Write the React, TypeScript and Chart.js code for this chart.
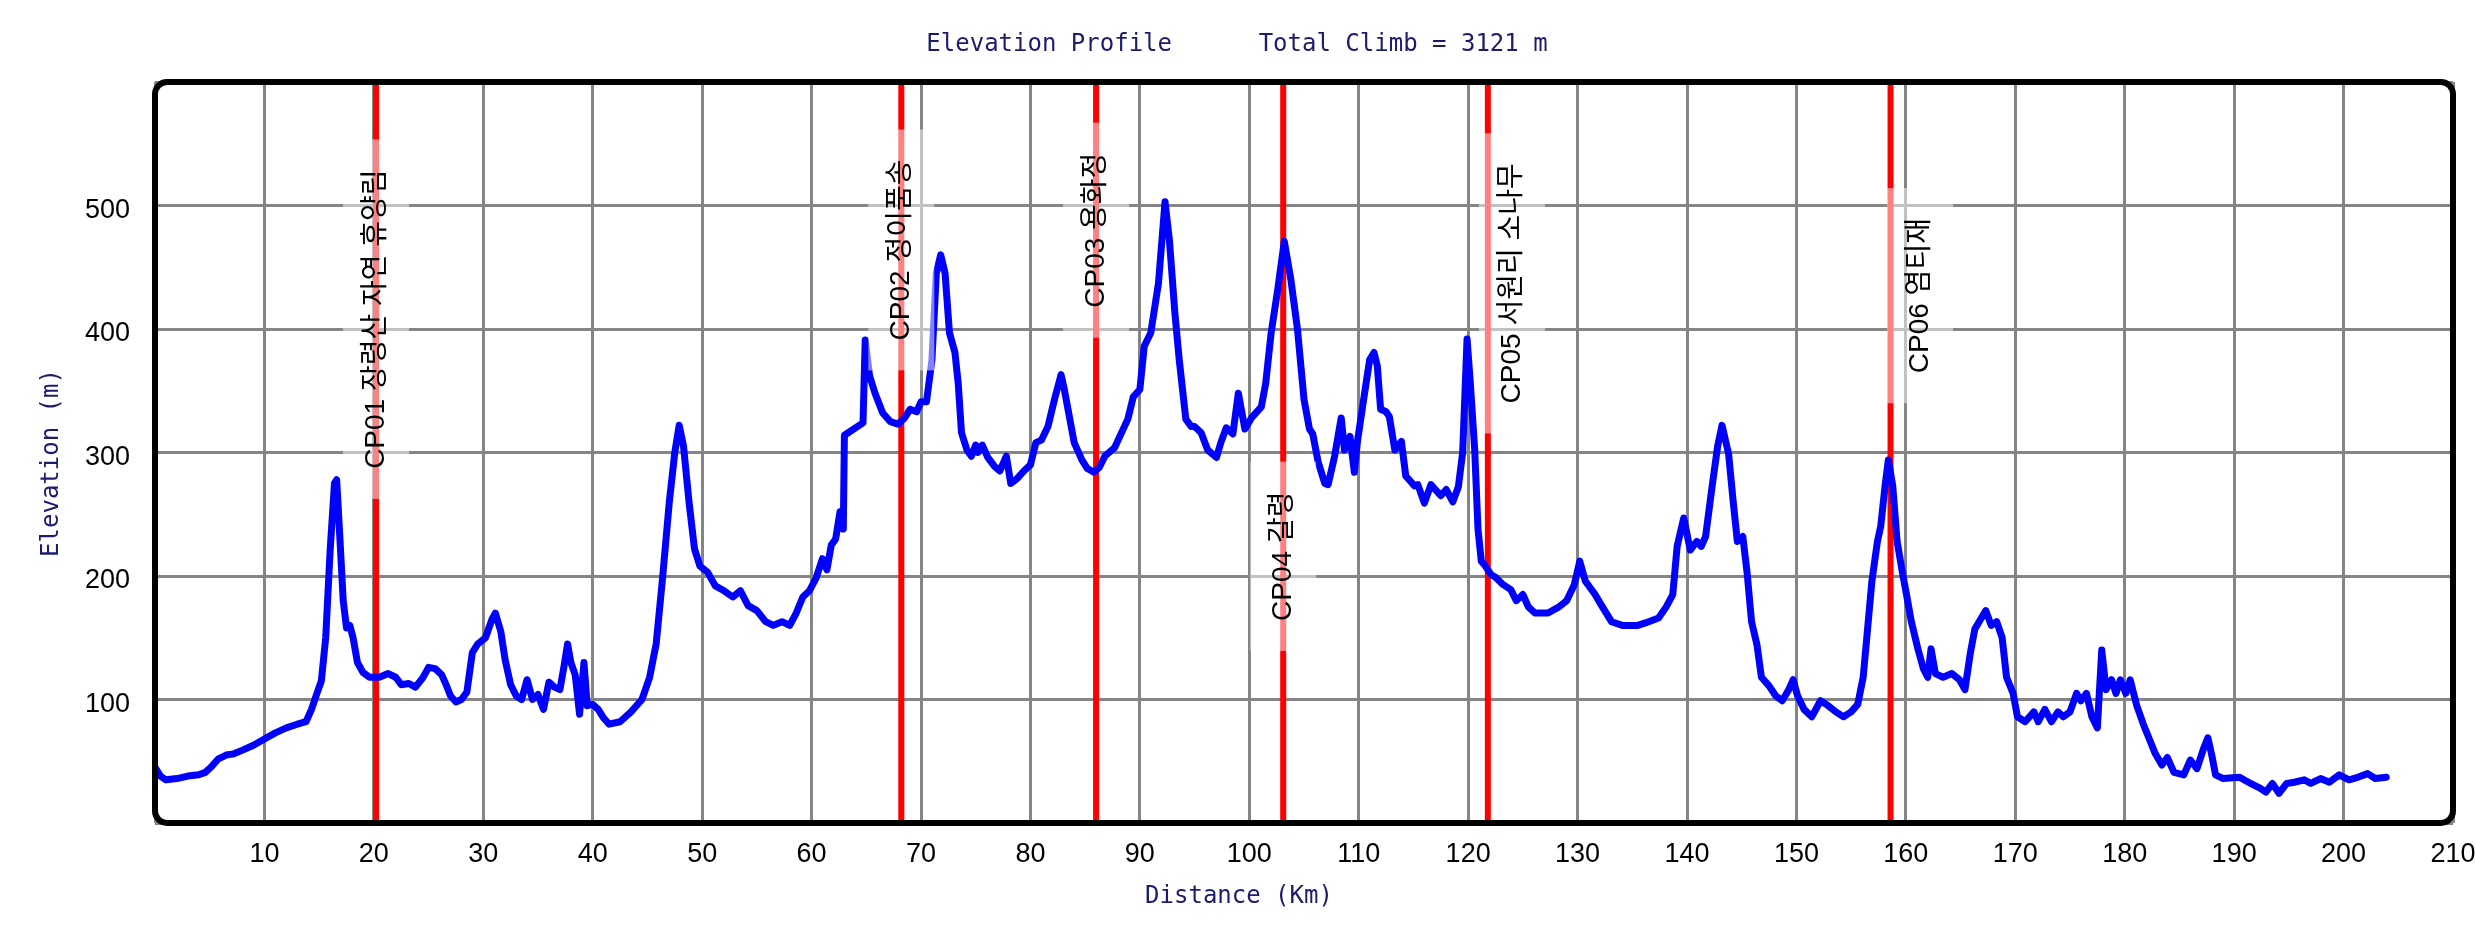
import { useEffect, useRef } from 'react';
import { Chart, registerables } from 'chart.js';

Chart.register(...registerables);

const titleText = 'Elevation Profile      Total Climb = 3121 m';
const xAxisTitle = 'Distance (Km)';
const yAxisTitle = 'Elevation (m)';

const xTickLabels = [10, 20, 30, 40, 50, 60, 70, 80, 90, 100, 110, 120, 130, 140, 150, 160, 170, 180, 190, 200, 210];
const yTickLabels = [100, 200, 300, 400, 500];

const cpNames = ['CP01 장령산 자연 휴양림', 'CP02 정이품송', 'CP03 용화정', 'CP04 갈령', 'CP05 서원리 소나무', 'CP06 염티재'];
const cpKm = [20.2, 68.2, 86.0, 103.1, 121.8, 158.6];
const cpLabelAt = [408, 464, 480, 216, 437, 427];
const cpLabelShiftKm = [0, 0, 0, 0, 2.2, 2.7];

const distanceKm = [
  0.0, 0.5, 1.0, 2.0, 3.0, 4.0, 4.6, 5.2, 5.8, 6.5, 7.2, 8.0, 9.0, 10.0, 11.0, 12.0, 13.0, 13.8, 14.3, 14.8,
  15.2, 15.6, 16.0, 16.4, 16.6, 16.9, 17.2, 17.5, 17.8, 18.1, 18.5, 19.0, 19.6, 20.5, 21.3, 22.0, 22.5, 23.2, 23.8, 24.5,
  25.0, 25.6, 26.2, 26.6, 27.0, 27.5, 28.0, 28.5, 29.0, 29.5, 30.2, 30.8, 31.1, 31.6, 32.0, 32.5, 33.0, 33.5, 34.0, 34.5,
  35.0, 35.5, 36.0, 36.5, 37.0, 37.4, 37.7, 38.0, 38.4, 38.8, 39.2, 39.5, 40.0, 40.5, 41.0, 41.5, 42.5, 43.5, 44.5, 45.2,
  45.8, 46.4, 47.0, 47.5, 47.9, 48.3, 48.8, 49.3, 49.8, 50.5, 51.2, 52.0, 52.8, 53.5, 54.2, 55.0, 55.8, 56.5, 57.3, 58.0,
  58.6, 59.2, 59.8, 60.4, 61.0, 61.4, 61.8, 62.2, 62.6, 62.9, 63.0, 64.7, 64.9, 65.3, 65.8, 66.5, 67.2, 67.9, 68.5, 69.0,
  69.6, 70.0, 70.5, 71.0, 71.4, 71.8, 72.2, 72.6, 73.1, 73.4, 73.7, 74.2, 74.6, 75.0, 75.2, 75.6, 76.1, 76.7, 77.2, 77.8,
  78.2, 78.8, 79.4, 80.0, 80.5, 81.0, 81.6, 82.2, 82.8, 83.1, 83.6, 84.0, 84.7, 85.2, 85.8, 86.3, 86.8, 87.7, 88.9, 89.4,
  90.0, 90.4, 91.0, 91.7, 92.3, 92.7, 93.2, 93.6, 94.2, 94.7, 95.0, 95.6, 96.2, 97.0, 97.4, 97.9, 98.5, 99.0, 99.6, 100.2,
  101.1, 101.5, 102.0, 102.6, 103.2, 103.8, 104.4, 105.0, 105.5, 105.8, 106.3, 106.9, 107.2, 107.8, 108.4, 108.7, 109.2, 109.6, 109.9, 110.5,
  111.0, 111.4, 111.7, 112.0, 112.5, 112.8, 113.3, 113.9, 114.3, 115.1, 115.4, 116.0, 116.6, 117.5, 118.0, 118.6, 119.1, 119.5, 119.9, 120.2,
  120.6, 120.9, 121.2, 121.5, 122.1, 122.5, 123.2, 123.9, 124.4, 125.0, 125.5, 126.1, 127.3, 128.3, 129.0, 129.7, 130.2, 130.7, 131.6, 132.2,
  133.1, 134.1, 135.5, 136.2, 137.4, 138.1, 138.7, 139.1, 139.7, 140.3, 140.9, 141.3, 141.7, 142.3, 142.8, 143.2, 143.8, 144.2, 144.6, 145.1,
  145.5, 145.9, 146.4, 146.8, 147.5, 148.1, 148.7, 149.3, 149.7, 150.1, 150.7, 151.4, 152.2, 152.9, 153.6, 154.3, 155.0, 155.6, 156.1, 156.5,
  156.9, 157.4, 157.7, 158.1, 158.4, 158.8, 159.2, 159.7, 160.1, 160.5, 161.1, 161.6, 162.0, 162.3, 162.7, 163.4, 164.2, 164.9, 165.4, 165.9,
  166.3, 166.9, 167.3, 167.8, 168.3, 168.8, 169.2, 169.8, 170.2, 170.9, 171.7, 172.1, 172.7, 173.3, 173.9, 174.4, 175.0, 175.6, 176.0, 176.5,
  177.0, 177.5, 177.9, 178.3, 178.8, 179.2, 179.6, 180.1, 180.5, 181.1, 181.7, 182.2, 182.8, 183.4, 183.9, 184.5, 185.4, 186.0, 186.6, 187.2,
  187.6, 188.0, 188.3, 189.0, 190.5, 191.5, 192.4, 192.9, 193.5, 194.1, 194.8, 195.5, 196.4, 197.0, 197.9, 198.7, 199.6, 200.5, 201.3, 202.2,
  202.9, 203.9,
];

const elevationM = [
  45, 38, 35, 36, 38, 39, 41, 46, 52, 55, 56, 59, 63, 68, 73, 77, 80, 82, 92, 105,
  115, 150, 220, 275, 278, 230, 180, 158, 160, 150, 130, 122, 118, 118, 121, 118, 112, 113, 110, 118,
  126, 125, 120, 112, 103, 98, 100, 106, 138, 145, 150, 165, 170, 155, 132, 112, 103, 100, 116, 100,
  104, 92, 114, 110, 108, 128, 145, 130, 120, 88, 130, 95, 96, 92, 85, 80, 82, 90, 100, 118,
  145, 200, 260, 300, 322, 305, 260, 222, 208, 203, 192, 188, 183, 188, 176, 172, 163, 160, 163, 160,
  170, 183, 188, 198, 214, 205, 225, 230, 252, 238, 314, 324, 391, 362, 348, 332, 325, 323, 328, 335,
  333, 341, 341, 375, 445, 460, 445, 397, 381, 356, 316, 302, 297, 306, 300, 306, 296, 289, 285, 297,
  275, 279, 285, 290, 308, 310, 321, 343, 363, 351, 327, 308, 294, 287, 284, 288, 297, 304, 327, 345,
  351, 386, 397, 437, 503, 472, 413, 375, 327, 321, 321, 316, 302, 296, 308, 320, 315, 348, 319, 328,
  337, 356, 397, 432, 471, 440, 400, 343, 319, 315, 292, 275, 274, 297, 328, 302, 313, 284, 310, 346,
  375, 381, 370, 335, 333, 329, 302, 309, 281, 273, 274, 259, 274, 265, 270, 260, 272, 300, 392, 356,
  302, 238, 212, 209, 201, 199, 193, 189, 180, 185, 175, 170, 170, 175, 180, 193, 212, 196, 185, 176,
  163, 160, 160, 162, 166, 175, 185, 224, 247, 221, 228, 224, 232, 273, 305, 322, 299, 262, 228, 232,
  202, 163, 144, 118, 111, 103, 99, 108, 116, 103, 92, 86, 99, 95, 90, 86, 90, 96, 118, 157,
  196, 228, 240, 273, 294, 273, 228, 202, 183, 163, 141, 125, 118, 141, 121, 118, 121, 116, 108, 138,
  157, 166, 172, 160, 163, 150, 118, 105, 86, 82, 90, 82, 92, 82, 90, 86, 90, 105, 99, 105,
  86, 77, 140, 108, 116, 105, 116, 105, 116, 95, 80, 69, 56, 47, 53, 41, 39, 51, 44, 60,
  69, 53, 39, 36, 37, 32, 28, 25, 32, 24, 32, 33, 35, 32, 36, 33, 39, 35, 37, 40,
  36, 37,
];

const NAVY = '#1c1c6e';
const MONO = '24px "DejaVu Sans Mono", monospace';

const overlayPlugin = {
  id: 'overlay',
  beforeDatasetsDraw(chart: any) {
    const { ctx, chartArea: a, scales } = chart;
    const x = scales.x;
    ctx.save();
    ctx.strokeStyle = '#ff0000';
    ctx.lineWidth = 6;
    cpKm.forEach((k) => {
      const px = x.getPixelForValue(k);
      ctx.beginPath();
      ctx.moveTo(px, a.top);
      ctx.lineTo(px, a.bottom);
      ctx.stroke();
    });
    ctx.restore();
  },
  afterDatasetsDraw(chart: any) {
    const { ctx, scales } = chart;
    const x = scales.x;
    const y = scales.y;
    ctx.save();
    ctx.font = '28px "Liberation Sans", "Noto Sans CJK KR", sans-serif';
    cpNames.forEach((name, i) => {
      const px = x.getPixelForValue(cpKm[i] + cpLabelShiftKm[i]);
      const py = y.getPixelForValue(cpLabelAt[i]);
      const w = ctx.measureText(name).width;
      const len = w + 60;
      ctx.fillStyle = 'rgba(255,255,255,0.5)';
      ctx.fillRect(px - 33, py - len / 2, 66, len);
      ctx.save();
      ctx.translate(px, py);
      ctx.rotate(-Math.PI / 2);
      ctx.fillStyle = '#000000';
      ctx.textAlign = 'center';
      ctx.textBaseline = 'middle';
      ctx.fillText(name, 0, 0);
      ctx.restore();
    });
    ctx.restore();
  },
  afterDraw(chart: any) {
    const { ctx, chartArea: a } = chart;
    ctx.save();
    ctx.strokeStyle = '#000000';
    ctx.lineWidth = 6;
    ctx.beginPath();
    ctx.roundRect(a.left, a.top, a.right - a.left, a.bottom - a.top, 12);
    ctx.stroke();

    ctx.fillStyle = NAVY;
    ctx.font = MONO;
    ctx.textAlign = 'center';
    ctx.textBaseline = 'middle';
    ctx.fillText(titleText, 1237, 45);
    ctx.fillText(xAxisTitle, 1239, 897);
    ctx.save();
    ctx.translate(52, 463);
    ctx.rotate(-Math.PI / 2);
    ctx.fillText(yAxisTitle, 0, 0);
    ctx.restore();
    ctx.restore();
  },
};

export default function App() {
  const ref = useRef<HTMLCanvasElement | null>(null);

  useEffect(() => {
    if (!ref.current) return;
    const points = distanceKm.map((d, i) => ({ x: d, y: elevationM[i] }));
    const tickFont = { family: '"Liberation Sans", Arial, sans-serif', size: 27 };
    const chart = new Chart(ref.current, {
      type: 'line',
      data: {
        datasets: [
          {
            data: points,
            borderColor: '#0000ff',
            borderWidth: 7,
            pointRadius: 0,
            tension: 0,
            borderJoinStyle: 'round',
            borderCapStyle: 'round',
            fill: false,
          },
        ],
      },
      options: {
        responsive: false,
        animation: false,
        devicePixelRatio: 1,
        layout: { padding: { top: 82, right: 22, left: 0, bottom: 0 } },
        plugins: { legend: { display: false }, title: { display: false }, tooltip: { enabled: false } },
        scales: {
          x: {
            type: 'linear',
            min: 0,
            max: 210,
            afterFit: (s: any) => {
              s.height = 105;
              s.paddingLeft = 0;
              s.paddingRight = 0;
            },
            ticks: {
              stepSize: 10,
              autoSkip: false,
              maxRotation: 0,
              padding: 15,
              color: '#000000',
              font: tickFont,
              callback: (v: any) => (xTickLabels.includes(Number(v)) ? String(v) : ''),
            },
            grid: { color: '#858585', lineWidth: 3, drawTicks: false },
            border: { display: false },
          },
          y: {
            type: 'linear',
            min: 0,
            max: 600,
            afterFit: (s: any) => {
              s.width = 155;
              s.paddingTop = 0;
              s.paddingBottom = 0;
            },
            ticks: {
              stepSize: 100,
              padding: 25,
              labelOffset: 5,
              color: '#000000',
              font: tickFont,
              callback: (v: any) => (yTickLabels.includes(Number(v)) ? String(v) : ''),
            },
            grid: { color: '#858585', lineWidth: 3, drawTicks: false },
            border: { display: false },
          },
        },
      },
      plugins: [overlayPlugin],
    });
    return () => chart.destroy();
  }, []);

  return (
    <div style={{ position: 'absolute', left: 0, top: 0, width: 2475, height: 928, background: '#ffffff' }}>
      <canvas ref={ref} width={2475} height={928} style={{ width: 2475, height: 928, display: 'block' }} />
    </div>
  );
}
